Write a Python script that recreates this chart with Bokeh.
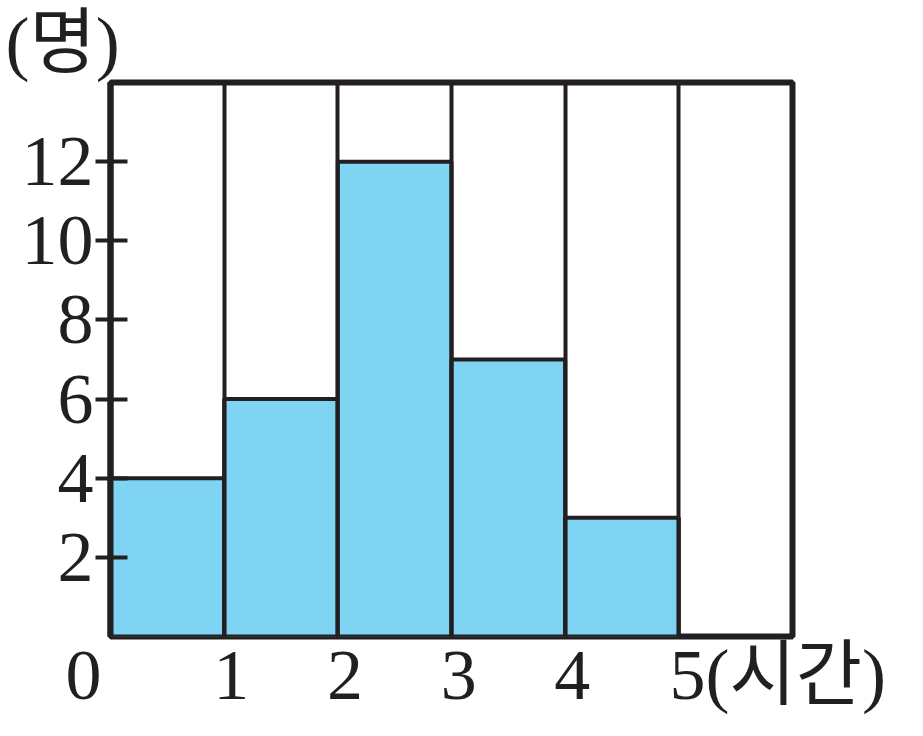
from bokeh.plotting import figure
from bokeh.models import Range1d, FixedTicker
from bokeh.embed import file_html
from bokeh.resources import INLINE

# data
bin_edges = [0, 1, 2, 3, 4, 5]
counts = [4, 6, 12, 7, 3]
y_ticks = [2, 4, 6, 8, 10, 12]
x_ticks = [0, 1, 2, 3, 4, 5]
x_tick_labels = ["0", "1", "2", "3", "4", "5"]
x_unit = "(시간)"
y_unit = "(명)"

INK = "#231F20"
FILL = "#80D4F3"
FONT = "'Liberation Serif', 'Noto Sans CJK KR', serif"
NB = "\u00a0"
THIN = "\u2009"

p = figure(width=915, height=728, output_backend="svg", toolbar_location=None,
           x_range=Range1d(0, 6), y_range=Range1d(0, 14),
           min_border_left=110, min_border_top=82, min_border_right=123,
           min_border_bottom=92, title=y_unit)
p.background_fill_color = "white"
p.border_fill_color = "white"
p.outline_line_color = INK
p.outline_line_width = 6

p.title.text_font = FONT
p.title.text_font_size = "72px"
p.title.text_font_style = "normal"
p.title.text_color = INK
p.title.align = "left"
p.title.offset = -105
p.title.standoff = 0

p.quad(left=bin_edges[:-1], right=bin_edges[1:], bottom=0, top=counts,
       fill_color=FILL, line_color=INK, line_width=4)

p.xgrid.ticker = FixedTicker(ticks=[1, 2, 3, 4, 5])
p.xgrid.grid_line_color = INK
p.xgrid.grid_line_width = 4
p.xgrid.level = "overlay"
p.ygrid.grid_line_color = None

ax = p.yaxis[0]
ax.ticker = FixedTicker(ticks=y_ticks)
ax.axis_line_color = INK
ax.axis_line_width = 6
ax.major_tick_line_color = INK
ax.major_tick_line_width = 4
ax.major_tick_in = 17
ax.major_tick_out = 15
ax.minor_tick_line_color = None
ax.major_label_standoff = 2
ax.major_label_text_font = FONT
ax.major_label_text_font_size = "72px"
ax.major_label_text_color = INK

# x axis: labels only; the first label sits left of the origin, the unit follows the last
overrides = {}
for v, t in zip(x_ticks, x_tick_labels):
    if v == x_ticks[0]:
        overrides[v] = t + NB * 3
    elif v == x_ticks[-1]:
        overrides[v] = NB * 11 + t + x_unit
    else:
        overrides[v] = THIN + t
xa = p.xaxis[0]
xa.ticker = FixedTicker(ticks=x_ticks)
xa.major_label_overrides = overrides
xa.axis_line_color = None
xa.major_tick_line_color = None
xa.minor_tick_line_color = None
xa.major_label_standoff = -8
xa.major_label_text_font = FONT
xa.major_label_text_font_size = "72px"
xa.major_label_text_color = INK

open("out.html", "w").write(file_html(p, INLINE))
